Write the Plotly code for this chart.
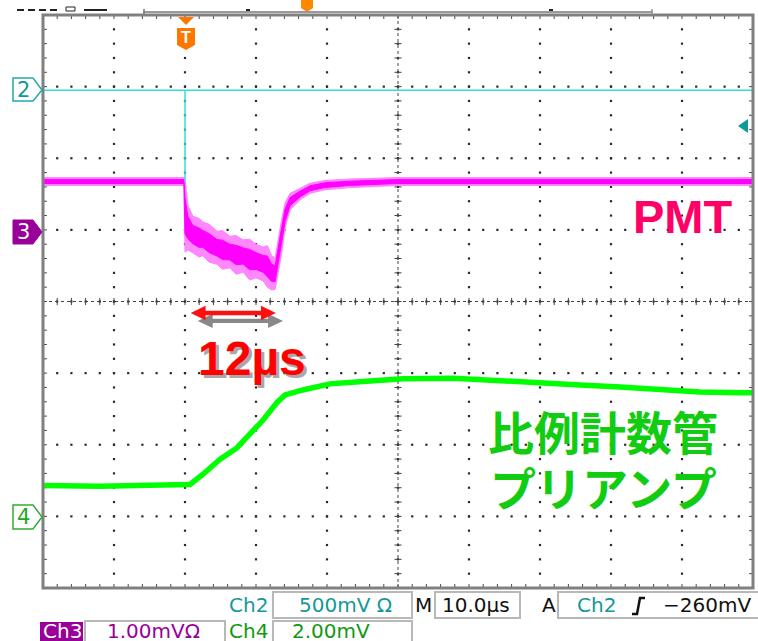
import plotly.graph_objects as go

# ---- timebase / graticule ----
t_per_div = 10.0          # µs per division
t_left = -20.0            # µs at left edge (trigger 2 div from left)
n_xdiv, n_ydiv = 10, 8
t_right = t_left + n_xdiv * t_per_div
minor = 5                 # graticule dots per division

# ---- channel positions (div) and scales ----
ch2_pos, ch2_scale = 2.95, 500.0   # mV/div
ch3_pos, ch3_scale = 1.0, 1.0      # mV/div
ch4_pos, ch4_scale = -3.0, 2.0     # mV/div

# ---- Ch2: trigger pulse (mV) ----
ch2_t = [-20.0, 0.0, 0.0, 0.0, 80.0]
ch2_mv = [0.0, 0.0, -640.0, 0.0, 0.0]

# ---- Ch3: PMT signal, noise envelope (mV) ----
pmt_t = [-20.0, -0.15, 0.0, 0.4, 1.1, 2.0, 2.5, 3.4, 4.5, 5.3, 6.3, 7.2, 8.2, 9.1, 10.0, 11.0,
         11.6, 12.2, 12.7, 13.1, 13.6, 14.1, 14.8, 16.2, 17.6, 19.7, 23.2, 30.0, 80.0]
pmt_hi = [0.73, 0.73, 0.71, 0.35, 0.19, 0.16, 0.11, 0.08, -0.02, -0.01, -0.09, -0.08, -0.14,
          -0.13, -0.20, -0.24, -0.22, -0.36, -0.39, -0.14, 0.14, 0.38, 0.51, 0.58, 0.65,
          0.69, 0.71, 0.73, 0.73]
pmt_lo = [0.62, 0.62, -0.31, -0.28, -0.32, -0.38, -0.36, -0.45, -0.48, -0.55, -0.53, -0.62,
          -0.59, -0.70, -0.67, -0.71, -0.80, -0.84, -0.83, -0.59, -0.34, 0.03, 0.28, 0.42,
          0.51, 0.56, 0.59, 0.62, 0.62]

# ---- Ch4: proportional counter preamp output (mV) ----
ch4_t = [-20.0, -12.0, -5.0, 0.0, 0.7, 2.5, 4.9, 7.3, 9.2, 11.0, 13.0, 14.1, 16.6,
         20.4, 26.1, 30.7, 37.8, 44.4, 50.0, 55.6, 61.3, 66.9, 72.5, 78.2, 80.0]
ch4_mv = [0.86, 0.84, 0.87, 0.86, 0.89, 1.17, 1.59, 1.91, 2.33, 2.69, 3.19, 3.39, 3.53,
          3.70, 3.78, 3.84, 3.86, 3.78, 3.70, 3.67, 3.61, 3.53, 3.47, 3.45, 3.45]

# ---- annotated pulse width ----
width_start = 0.8   # µs
width_us = 12.0     # µs

# ---- readout texts ----
ch2_volts = "500mV Ω"
ch3_volts = "1.00mVΩ"
ch4_volts = "2.00mV"
time_div = "10.0µs"
trig_level = "−260mV"


def to_div(vals, pos, scale):
    return [pos + v / scale for v in vals]


# pixel geometry of the graticule window
PX_L, PX_R, PX_T, PX_B = 43, 753, 15, 588


def px(x):
    return (x - PX_L) / (PX_R - PX_L)


def py(y):
    return (PX_B - y) / (PX_B - PX_T)


def poly(points):
    return "M " + " L ".join(f"{px(a):.5f},{py(b):.5f}" for a, b in points) + " Z"


fig = go.Figure()

# ---- graticule dots ----
gx, gy = [], []
half_y = n_ydiv / 2
for i in range(1, n_xdiv):
    t = t_left + i * t_per_div
    for k in range(n_ydiv * minor + 1):
        gx.append(t)
        gy.append(-half_y + k / minor)
for j in range(1, n_ydiv):
    d = -half_y + j
    for k in range(n_xdiv * minor + 1):
        gx.append(t_left + k * t_per_div / minor)
        gy.append(d)
fig.add_trace(go.Scatter(x=gx, y=gy, mode="markers", hoverinfo="skip",
                         marker=dict(size=2.2, color="#2a2a2a", symbol="square")))

# center crosshair and border ticks
t_mid = t_left + n_xdiv * t_per_div / 2
cx, cy = [t_mid, t_mid, None, t_left, t_right], [-half_y, half_y, None, 0, 0]
fig.add_trace(go.Scatter(x=cx, y=cy, mode="lines", hoverinfo="skip",
                         line=dict(color="#444444", width=1, dash="dot")))
tx, ty = [], []
tick_t = 0.5    # µs
tick_d = 0.05   # div
for k in range(n_ydiv * minor + 1):
    d = -half_y + k / minor
    for a, b in [(t_mid - tick_t, t_mid + tick_t), (t_left, t_left + tick_t * 1.1),
                 (t_right - tick_t * 1.1, t_right)]:
        tx += [a, b, None]
        ty += [d, d, None]
for k in range(n_xdiv * minor + 1):
    t = t_left + k * t_per_div / minor
    for a, b in [(-tick_d, tick_d), (half_y - tick_d * 1.1, half_y), (-half_y, -half_y + tick_d * 1.1)]:
        tx += [t, t, None]
        ty += [a, b, None]
fig.add_trace(go.Scatter(x=tx, y=ty, mode="lines", hoverinfo="skip",
                         line=dict(color="#444444", width=1)))

# ---- Ch4 (green) ----
fig.add_trace(go.Scatter(x=ch4_t, y=to_div(ch4_mv, ch4_pos, ch4_scale), mode="lines",
                         line=dict(color="#00FF00", width=5.5), hoverinfo="skip"))

# ---- Ch3 (magenta) noise band ----
hi_d = to_div(pmt_hi, ch3_pos, ch3_scale)
lo_d = to_div(pmt_lo, ch3_pos, ch3_scale)
fig.add_trace(go.Scatter(x=pmt_t, y=hi_d, mode="lines", line=dict(color="#FF80FF", width=1),
                         hoverinfo="skip"))
fig.add_trace(go.Scatter(x=pmt_t, y=lo_d, mode="lines", line=dict(color="#FF80FF", width=1),
                         fill="tonexty", fillcolor="#FF88FF", hoverinfo="skip"))
core_hi = [(h + l) / 2 + 0.5 * (h - l) / 2 for h, l in zip(hi_d, lo_d)]
core_lo = [(h + l) / 2 - 0.5 * (h - l) / 2 for h, l in zip(hi_d, lo_d)]
fig.add_trace(go.Scatter(x=pmt_t, y=core_hi, mode="lines", line=dict(color="#FF00FF", width=1),
                         hoverinfo="skip"))
fig.add_trace(go.Scatter(x=pmt_t, y=core_lo, mode="lines", line=dict(color="#FF00FF", width=1),
                         fill="tonexty", fillcolor="#FF00FF", hoverinfo="skip"))

# ---- Ch2 (cyan) ----
fig.add_trace(go.Scatter(x=ch2_t, y=to_div(ch2_mv, ch2_pos, ch2_scale), mode="lines",
                         line=dict(color="#33DDDD", width=1.5), hoverinfo="skip"))

shapes = []
# graticule frame
shapes.append(dict(type="rect", xref="paper", yref="paper", x0=0, x1=1, y0=0, y1=1,
                   line=dict(color="#808080", width=3), layer="above"))


# pulse-width arrow (data coordinates)
def darrow(t0, t1, yc, dt=0.0, dy=0.0):
    hl, hh, sh = 2.1, 0.1, 0.03
    a, b = t0 + dt, t1 + dt
    c = yc + dy
    pts = [(a, c), (a + hl, c + hh), (a + hl, c + sh), (b - hl, c + sh), (b - hl, c + hh),
           (b, c), (b - hl, c - hh), (b - hl, c - sh), (a + hl, c - sh), (a + hl, c - hh)]
    return "M " + " L ".join(f"{p:.4f},{q:.4f}" for p, q in pts) + " Z"


arrow_y = (301.5 - 313) / 71.625
shapes.append(dict(type="path", xref="x", yref="y",
                   path=darrow(width_start, width_start + width_us, arrow_y, 1.0, -0.11),
                   fillcolor="#888888", line=dict(width=0)))
shapes.append(dict(type="path", xref="x", yref="y",
                   path=darrow(width_start, width_start + width_us, arrow_y),
                   fillcolor="#FF1010", line=dict(width=0)))

# channel ground markers
shapes.append(dict(type="path", xref="paper", yref="paper",
                   path=poly([(13, 78), (33, 78), (42, 90), (33, 101), (13, 101)]),
                   fillcolor="white", line=dict(color="#22AAAA", width=1.5)))
shapes.append(dict(type="path", xref="paper", yref="paper",
                   path=poly([(13, 220), (33, 220), (42, 232), (33, 244), (13, 244)]),
                   fillcolor="#990099", line=dict(color="#990099", width=1)))
shapes.append(dict(type="path", xref="paper", yref="paper",
                   path=poly([(13, 505), (33, 505), (42, 517), (33, 529), (13, 529)]),
                   fillcolor="white", line=dict(color="#33AA33", width=1.5)))

# trigger position marker
shapes.append(dict(type="path", xref="paper", yref="paper",
                   path=poly([(178, 17), (194, 17), (186, 25)]),
                   fillcolor="#FF7700", line=dict(width=0)))
shapes.append(dict(type="path", xref="paper", yref="paper",
                   path=poly([(177, 28), (195, 28), (195, 45), (186, 50), (177, 45)]),
                   fillcolor="#FF7700", line=dict(width=0)))
shapes.append(dict(type="path", xref="paper", yref="paper",
                   path=poly([(301, 0), (313, 0), (313, 8), (307, 12), (301, 8)]),
                   fillcolor="#FF8800", line=dict(width=0)))
# trigger level marker
shapes.append(dict(type="path", xref="paper", yref="paper",
                   path=poly([(738, 126), (748, 119), (748, 133)]),
                   fillcolor="#109999", line=dict(width=0)))

# record bar across the top
shapes.append(dict(type="line", xref="paper", yref="paper", x0=px(143), x1=px(653),
                   y0=py(12), y1=py(12), line=dict(color="#999999", width=2)))
shapes.append(dict(type="line", xref="paper", yref="paper", x0=px(144), x1=px(144),
                   y0=py(9), y1=py(14), line=dict(color="#777777", width=1.5)))
shapes.append(dict(type="line", xref="paper", yref="paper", x0=px(652), x1=px(652),
                   y0=py(9), y1=py(14), line=dict(color="#999999", width=1.5)))
for a in [17, 28, 39, 50]:
    shapes.append(dict(type="line", xref="paper", yref="paper", x0=px(a), x1=px(a + 7),
                       y0=py(10), y1=py(10), line=dict(color="#222222", width=2)))
shapes.append(dict(type="line", xref="paper", yref="paper", x0=px(84), x1=px(107),
                   y0=py(10), y1=py(10), line=dict(color="#222222", width=2)))
shapes.append(dict(type="rect", xref="paper", yref="paper", x0=px(66), x1=px(75),
                   y0=py(11), y1=py(7), line=dict(color="#222222", width=1)))
for a in [246, 549]:
    shapes.append(dict(type="line", xref="paper", yref="paper", x0=px(a), x1=px(a + 4),
                       y0=py(10), y1=py(10), line=dict(color="#222222", width=2)))

# readout boxes
box = dict(color="#B8B8B8", width=2)
for (x0, x1, y0, y1) in [(273, 412, 592, 618), (435, 520, 592, 618), (558, 760, 592, 618),
                         (85, 225, 621, 645), (273, 412, 621, 645)]:
    shapes.append(dict(type="rect", xref="paper", yref="paper", x0=px(x0), x1=px(x1),
                       y0=py(y1), y1=py(y0), line=box))
shapes.append(dict(type="rect", xref="paper", yref="paper", x0=px(40), x1=px(83),
                   y0=py(645), y1=py(622), fillcolor="#990099", line=dict(width=0)))
# rising-edge trigger slope symbol
shapes.append(dict(type="path", xref="paper", yref="paper",
                   path=f"M {px(632)},{py(614)} L {px(637)},{py(614)} L {px(640)},{py(598)} L {px(645)},{py(598)}",
                   line=dict(color="#111111", width=2.5)))

annotations = []


def label(text, x, y, size, color, family="DejaVu Sans", xanchor="center", yanchor="middle"):
    annotations.append(dict(text=text, x=px(x), y=py(y), xref="paper", yref="paper",
                            showarrow=False, xanchor=xanchor, yanchor=yanchor,
                            font=dict(family=family, size=size, color=color)))


# ground marker numbers
label("2", 23, 90, 21, "#119999")
label("3", 23, 232, 21, "white")
label("4", 23, 517, 21, "#22AA22")
label("<b>T</b>", 186, 38, 16, "white", family="Liberation Sans")

# signal labels
label("<b>PMT</b>", 683, 216, 47, "#FF0066", family="Liberation Sans")
label(f"<b>{width_us:.0f}µs</b>", 255, 361, 48, "#A8A8A8", family="Liberation Sans")
label(f"<b>{width_us:.0f}µs</b>", 252, 358, 48, "#FF0000", family="Liberation Sans")
label("<b>比例計数管</b>", 603, 430, 46, "#11CC11", family="Noto Sans CJK JP")
label("<b>プリアンプ</b>", 603, 486, 46, "#11CC11", family="Noto Sans CJK JP")

# readouts
label("Ch2", 270, 605, 20, "#119999", xanchor="right")
label(ch2_volts, 297, 605, 20, "#119999", xanchor="left")
label("M", 424, 605, 20, "#111111")
label(time_div, 440, 605, 20, "#111111", xanchor="left")
label("A", 549, 605, 20, "#111111")
label("Ch2", 575, 605, 20, "#119999", xanchor="left")
label(trig_level, 753, 605, 20, "#111111", xanchor="right")
label("Ch3", 62, 631, 20, "white")
label(ch3_volts, 105, 631, 20, "#990099", xanchor="left")
label("Ch4", 270, 631, 20, "#119911", xanchor="right")
label(ch4_volts, 290, 631, 20, "#119911", xanchor="left")

fig.update_layout(
    width=758, height=641,
    margin=dict(l=PX_L, r=758 - PX_R, t=PX_T, b=641 - PX_B),
    paper_bgcolor="white", plot_bgcolor="white",
    showlegend=False,
    xaxis=dict(range=[t_left, t_right], visible=False, fixedrange=True),
    yaxis=dict(range=[-half_y, half_y], visible=False, fixedrange=True),
    shapes=shapes, annotations=annotations,
)

fig.write_html("out.html")
